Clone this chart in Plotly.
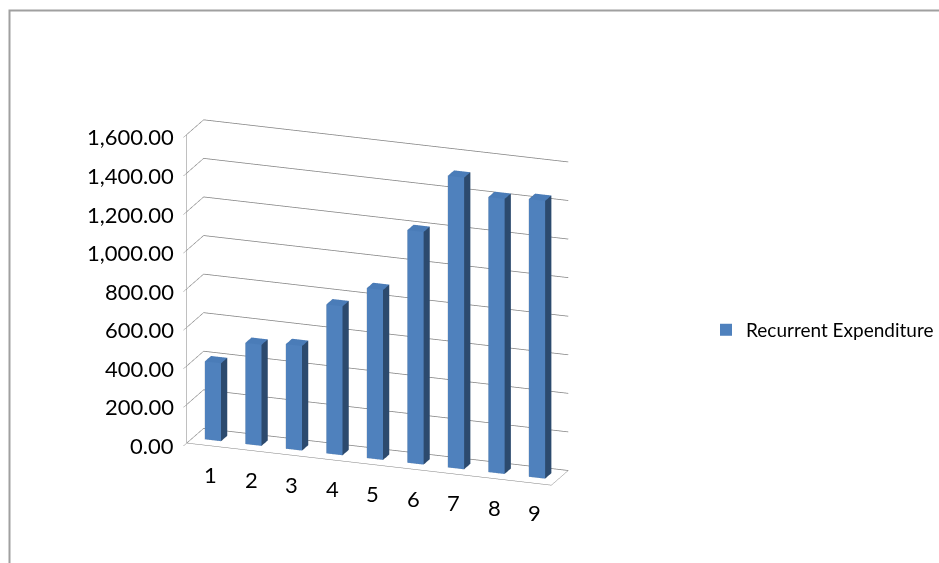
import plotly.graph_objects as go

# Recurrent expenditure by period
categories = ["1", "2", "3", "4", "5", "6", "7", "8", "9"]
values = [404, 524, 542, 772, 881, 1206, 1512, 1426, 1440]
value_ticks = [0, 200, 400, 600, 800, 1000, 1200, 1400, 1600]
series_name = "Recurrent Expenditure"

FRONT = "#4F81BD"
SIDE = "#2C4A6E"
TOP = "#4A7CB8"
BAR_W = 0.4
DEPTH = (0.35, 0.72)
X_RANGE = [0.5, len(categories) + 0.5]
Y_RANGE = [0, 1]

# build one box (8 vertices, 12 triangles) per category
xs, ys, zs, ii, jj, kk, fc = [], [], [], [], [], [], []
for n, v in enumerate(values):
    cx = n + 1
    x0, x1 = cx - BAR_W / 2, cx + BAR_W / 2
    y0, y1 = DEPTH
    base = len(xs)
    for (px, py, pz) in [(x0, y0, 0), (x1, y0, 0), (x1, y1, 0), (x0, y1, 0),
                         (x0, y0, v), (x1, y0, v), (x1, y1, v), (x0, y1, v)]:
        xs.append(px); ys.append(py); zs.append(pz)
    faces = [((0, 1, 5), FRONT), ((0, 5, 4), FRONT),
             ((1, 2, 6), SIDE), ((1, 6, 5), SIDE),
             ((4, 5, 6), TOP), ((4, 6, 7), TOP),
             ((3, 7, 6), SIDE), ((3, 6, 2), SIDE),
             ((0, 4, 7), SIDE), ((0, 7, 3), SIDE),
             ((0, 3, 2), SIDE), ((0, 2, 1), SIDE)]
    for (a, b, c), col in faces:
        ii.append(base + a); jj.append(base + b); kk.append(base + c); fc.append(col)

bars = go.Mesh3d(
    x=xs, y=ys, z=zs, i=ii, j=jj, k=kk, facecolor=fc,
    flatshading=True, hoverinfo="skip", showlegend=False,
    lighting=dict(ambient=1.0, diffuse=0.0, specular=0.0, roughness=1.0, fresnel=0.0),
)

# legend entry for the series
legend_key = go.Scatter(
    x=[None], y=[None], mode="markers", name=series_name,
    marker=dict(symbol="square", size=12, color=FRONT),
    showlegend=True, hoverinfo="skip",
)

fig = go.Figure([bars, legend_key])

FONT = "Lato, 'Open Sans', sans-serif"
label_font = dict(family=FONT, size=22, color="black")
axis_common = dict(showbackground=False, showspikes=False, zeroline=False,
                   title=dict(text=""), linecolor="#808080", linewidth=1)

# upright tick labels placed at the axis positions in scene coordinates
value_labels = [dict(x=X_RANGE[0], y=Y_RANGE[0], z=t, text=f"{t:,.2f}",
                     showarrow=False, xanchor="right", yanchor="middle",
                     xshift=-11, yshift=-2, font=label_font)
                for t in value_ticks]
category_labels = [dict(x=n + 1, y=Y_RANGE[0], z=0, text=c,
                        showarrow=False, xanchor="center", yanchor="middle",
                        xshift=4, yshift=-29, font=label_font)
                   for n, c in enumerate(categories)]

fig.update_layout(
    width=939, height=563,
    margin=dict(l=0, r=0, t=0, b=0),
    paper_bgcolor="white", plot_bgcolor="white",
    font=dict(family=FONT, size=18, color="black"),
    xaxis=dict(visible=False), yaxis=dict(visible=False),
    showlegend=True,
    legend=dict(x=0.752, y=0.414, xanchor="left", yanchor="middle",
                font=dict(family=FONT, size=19, color="black"),
                bgcolor="rgba(0,0,0,0)"),
    scene=dict(
        domain=dict(x=[0.003, 0.8006], y=[0.024, 0.9]),
        aspectmode="manual",
        aspectratio=dict(x=1.574, y=0.2, z=1.32),
        camera=dict(eye=dict(x=0.562, y=-1.544, z=0.550),
                    center=dict(x=0, y=0, z=0), up=dict(x=0, y=0, z=1),
                    projection=dict(type="orthographic")),
        xaxis=dict(axis_common, range=X_RANGE, tickmode="array",
                   tickvals=list(range(1, len(categories) + 1)),
                   showgrid=False, showline=True, ticks="", showticklabels=False),
        yaxis=dict(axis_common, range=Y_RANGE, showgrid=False, showline=True,
                   showticklabels=False, ticks=""),
        zaxis=dict(axis_common, range=[0, 1600], tickmode="array",
                   tickvals=value_ticks, showticklabels=False,
                   showgrid=True, gridcolor="#808080", gridwidth=1.5,
                   showline=True, ticks="outside", ticklen=6, tickcolor="#808080"),
        annotations=value_labels + category_labels,
    ),
    shapes=[dict(type="rect", xref="paper", yref="paper",
                 x0=9.5 / 939, x1=1.05, y0=-0.05, y1=1 - 10.5 / 563,
                 line=dict(color="#a0a0a0", width=2), layer="above")],
)

fig.write_html("out.html", config={"displayModeBar": False})
